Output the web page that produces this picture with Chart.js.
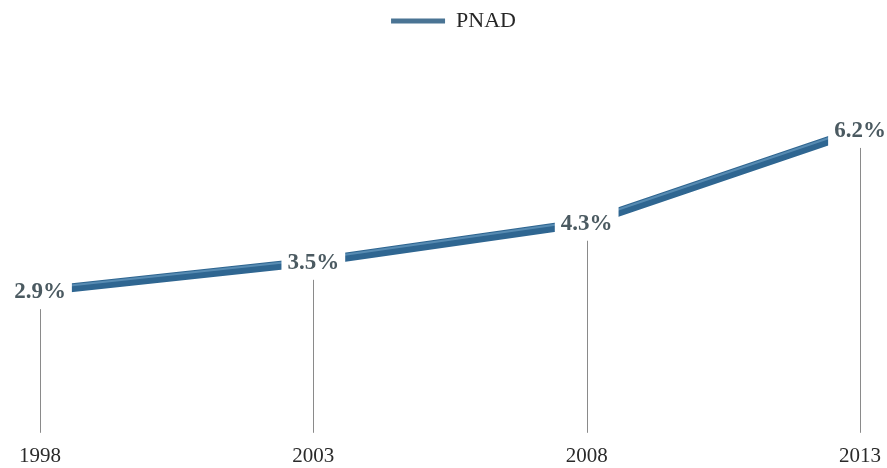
<!DOCTYPE html>
<html>
<head>
<meta charset="utf-8">
<script src="https://cdn.jsdelivr.net/npm/chart.js@4/dist/chart.umd.min.js"></script>
<style>
  html, body { margin: 0; padding: 0; background: #ffffff; }
  #wrap { width: 887px; height: 468px; }
</style>
</head>
<body>
<div id="wrap"><canvas id="c" width="887" height="468"></canvas></div>
<script>
// Survey years and share values (%)
const years = ['1998', '2003', '2008', '2013'];
const pnad = [2.9, 3.5, 4.3, 6.2];
const seriesName = 'PNAD';

const serif = "'Liberation Serif', 'Times New Roman', serif";

// Thin vertical guides from each point down to the baseline
const dropLines = {
  id: 'dropLines',
  beforeDatasetsDraw(chart) {
    const { ctx, chartArea } = chart;
    const meta = chart.getDatasetMeta(0);
    ctx.save();
    ctx.strokeStyle = '#8a8a8a';
    ctx.lineWidth = 1;
    meta.data.forEach(pt => {
      ctx.beginPath();
      ctx.moveTo(Math.round(pt.x) + 0.5, pt.y);
      ctx.lineTo(Math.round(pt.x) + 0.5, chartArea.bottom);
      ctx.stroke();
    });
    ctx.restore();
  }
};

// Lighter sheen along the upper edge of the thick series line
const lineSheen = {
  id: 'lineSheen',
  afterDatasetsDraw(chart) {
    const { ctx } = chart;
    const pts = chart.getDatasetMeta(0).data;
    ctx.save();
    ctx.strokeStyle = 'rgba(120,170,205,0.55)';
    ctx.lineWidth = 2;
    ctx.lineJoin = 'round';
    ctx.beginPath();
    pts.forEach((pt, i) => {
      if (i === 0) ctx.moveTo(pt.x, pt.y - 2.5);
      else ctx.lineTo(pt.x, pt.y - 2.5);
    });
    ctx.stroke();
    ctx.restore();
  }
};

// Value labels sitting on each point with a white backing box
const valueLabels = {
  id: 'valueLabels',
  afterDatasetsDraw(chart) {
    const { ctx } = chart;
    const meta = chart.getDatasetMeta(0);
    const values = chart.data.datasets[0].data;
    ctx.save();
    ctx.font = 'bold 23px ' + serif;
    ctx.textAlign = 'center';
    ctx.textBaseline = 'middle';
    meta.data.forEach((pt, i) => {
      const txt = values[i].toFixed(1) + '%';
      const w = ctx.measureText(txt).width;
      ctx.fillStyle = '#ffffff';
      ctx.fillRect(pt.x - w / 2 - 6, pt.y - 16, w + 12, 34);
      ctx.fillStyle = '#4b5a61';
      ctx.fillText(txt, pt.x, pt.y + 1);
    });
    ctx.restore();
  }
};

new Chart(document.getElementById('c'), {
  type: 'line',
  data: {
    labels: years,
    datasets: [{
      label: seriesName,
      data: pnad,
      borderColor: '#2f6691',
      backgroundColor: '#4a7494',
      borderWidth: 9,
      pointRadius: 0,
      tension: 0,
      fill: false
    }]
  },
  options: {
    responsive: false,
    animation: false,
    layout: { padding: { left: 40, right: 20, top: 0, bottom: -12 } },
    plugins: {
      legend: {
        position: 'top',
        labels: {
          font: { family: serif, size: 22 },
          color: '#262626',
          boxWidth: 54,
          boxHeight: 5,
          padding: 10,
          generateLabels(chart) {
            return Chart.defaults.plugins.legend.labels.generateLabels(chart).map(item => {
              item.lineWidth = 0;
              item.strokeStyle = 'rgba(0,0,0,0)';
              item.fillStyle = '#4a7494';
              return item;
            });
          }
        }
      },
      tooltip: { enabled: false }
    },
    scales: {
      x: {
        offset: false,
        grid: { display: false, drawTicks: false },
        border: { display: false },
        afterFit(scale) {
          scale.paddingRight = 27;
        },
        ticks: {
          font: { family: serif, size: 21 },
          color: '#2a2a2a',
          padding: 11,
          maxRotation: 0
        }
      },
      y: {
        display: false,
        min: 0,
        max: 8.0
      }
    }
  },
  plugins: [dropLines, lineSheen, valueLabels]
});
</script>
</body>
</html>
